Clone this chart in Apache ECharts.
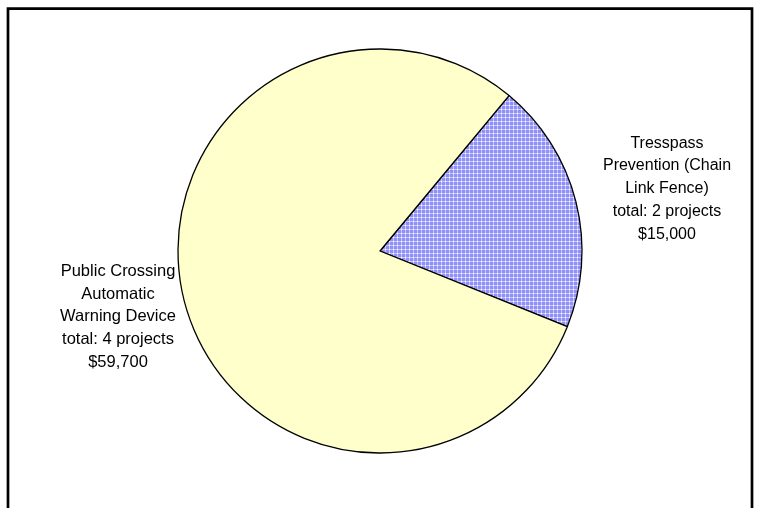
<!DOCTYPE html>
<html>
<head>
<meta charset="utf-8">
<script src="https://cdn.jsdelivr.net/npm/echarts@6/dist/echarts.min.js"></script>
<style>
html,body{margin:0;padding:0;background:#fff;}
#chart{width:759px;height:508px;}
</style>
</head>
<body>
<div id="chart"></div>
<script>
var categories = ['Tresspass\nPrevention (Chain\nLink Fence)', 'Public Crossing\nAutomatic\nWarning Device'];
var projectCounts = [2, 4];
var amounts = [15000, 59700];

function makePattern() {
  var c = document.createElement('canvas');
  c.width = 4; c.height = 4;
  var ctx = c.getContext('2d');
  ctx.fillStyle = '#9090fa';
  ctx.fillRect(0, 0, 4, 4);
  ctx.fillStyle = '#c8c8fd';
  ctx.fillRect(0, 1, 4, 1);
  ctx.fillRect(1, 0, 1, 4);
  ctx.fillStyle = '#ffffff';
  ctx.fillRect(1, 1, 1, 1);
  return c;
}

var fills = [{image: makePattern(), repeat: 'repeat'}, '#ffffcc'];
var labelPos = [[667, 132], [118, 260]];
var labelSizes = [16, 16.5];

var data = categories.map(function (name, i) {
  return {
    name: name,
    value: amounts[i],
    itemStyle: {color: fills[i]},
    label: {
      fontSize: labelSizes[i],
      formatter: name + '\ntotal: ' + projectCounts[i] + ' projects\n$' + amounts[i].toLocaleString('en-US')
    }
  };
});

var chart = echarts.init(document.getElementById('chart'), null, {renderer: 'canvas'});
chart.setOption({
  animation: false,
  graphic: [{
    type: 'rect',
    shape: {x: 8, y: 8.7, width: 744, height: 520},
    style: {fill: 'none', stroke: '#000', lineWidth: 2.7},
    silent: true,
    z: 100
  }],
  series: [{
    type: 'pie',
    center: [380, 251],
    radius: [0, 202],
    startAngle: 50.3,
    clockwise: true,
    data: data,
    itemStyle: {borderColor: '#000', borderWidth: 1.3},
    emphasis: {disabled: true},
    labelLine: {show: false},
    label: {
      show: true,
      position: 'outside',
      alignTo: 'none',
      overflow: 'none',
      width: 200,
      color: '#000',
      fontFamily: 'Liberation Sans, Arial, sans-serif',
      lineHeight: 22.7,
      align: 'center'
    },
    labelLayout: function (params) {
      var p = labelPos[params.dataIndex];
      return {x: p[0], y: p[1], align: 'center', verticalAlign: 'top'};
    }
  }]
});
</script>
</body>
</html>
